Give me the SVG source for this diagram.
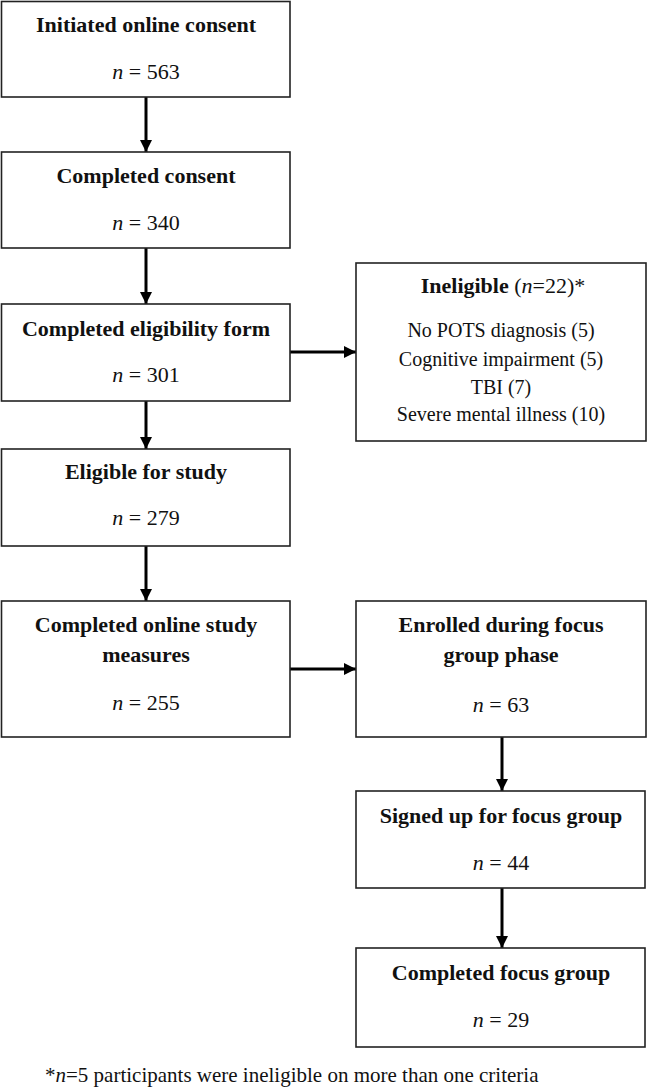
<svg xmlns="http://www.w3.org/2000/svg" width="647" height="1087" viewBox="0 0 647 1087">
<defs>
<style>
.box{fill:#fff;stroke:#222;stroke-width:1.6}
.b{font-family:"Liberation Serif","Times New Roman",serif;font-weight:bold;font-size:22px;fill:#111;text-anchor:middle}
.r{font-family:"Liberation Serif","Times New Roman",serif;font-size:22px;fill:#111;text-anchor:middle}
.l{font-family:"Liberation Serif","Times New Roman",serif;font-size:20px;fill:#111;text-anchor:middle}
.i{font-style:italic}
.c{stroke:#000;stroke-width:3;fill:none;marker-end:url(#ah)}
</style>
<marker id="ah" viewBox="0 0 10 10" refX="10" refY="5" markerUnits="userSpaceOnUse" markerWidth="12" markerHeight="12" orient="auto">
<path d="M0,0 L10,5 L0,10 z" fill="#000"/>
</marker>
</defs>
<rect width="647" height="1087" fill="#fff"/>
<g id="connectors">
<line class="c" x1="146" y1="97" x2="146" y2="152"/>
<line class="c" x1="146" y1="248" x2="146" y2="304"/>
<line class="c" x1="146" y1="401" x2="146" y2="449"/>
<line class="c" x1="146" y1="546" x2="146" y2="601"/>
<line class="c" x1="290" y1="352" x2="356" y2="352"/>
<line class="c" x1="290" y1="669" x2="356" y2="669"/>
<line class="c" x1="502" y1="737" x2="502" y2="791"/>
<line class="c" x1="502" y1="888" x2="502" y2="948"/>
</g>
<g id="n1">
<rect class="box" x="1.5" y="1.5" width="288.5" height="95.5"/>
<text class="b" x="146" y="32">Initiated online consent</text>
<text class="r" x="146" y="79"><tspan class="i">n</tspan> = 563</text>
</g>
<g id="n2">
<rect class="box" x="1.5" y="152" width="288.5" height="96"/>
<text class="b" x="146" y="183">Completed consent</text>
<text class="r" x="146" y="230"><tspan class="i">n</tspan> = 340</text>
</g>
<g id="n3">
<rect class="box" x="1.5" y="304" width="288.5" height="97"/>
<text class="b" x="146" y="336">Completed eligibility form</text>
<text class="r" x="146" y="382"><tspan class="i">n</tspan> = 301</text>
</g>
<g id="n4">
<rect class="box" x="1.5" y="449" width="288.5" height="97"/>
<text class="b" x="146" y="479">Eligible for study</text>
<text class="r" x="146" y="525"><tspan class="i">n</tspan> = 279</text>
</g>
<g id="n5">
<rect class="box" x="1.5" y="601" width="288.5" height="136"/>
<text class="b" x="146" y="632">Completed online study</text>
<text class="b" x="146" y="662">measures</text>
<text class="r" x="146" y="710"><tspan class="i">n</tspan> = 255</text>
</g>
<g id="ineligible">
<rect class="box" x="356" y="263" width="290" height="178"/>
<text class="r" x="503" y="293"><tspan font-weight="bold">Ineligible</tspan>  (<tspan class="i">n</tspan>=22)*</text>
<text class="l" x="501" y="337">No POTS diagnosis (5)</text>
<text class="l" x="501" y="366">Cognitive impairment (5)</text>
<text class="l" x="501" y="394">TBI (7)</text>
<text class="l" x="501" y="421">Severe mental illness (10)</text>
</g>
<g id="n6">
<rect class="box" x="356" y="601" width="290" height="136"/>
<text class="b" x="501" y="632">Enrolled during focus</text>
<text class="b" x="501" y="662">group phase</text>
<text class="r" x="501" y="712"><tspan class="i">n</tspan> = 63</text>
</g>
<g id="n7">
<rect class="box" x="356" y="791" width="289" height="97"/>
<text class="b" x="501" y="823">Signed up for focus group</text>
<text class="r" x="501" y="870"><tspan class="i">n</tspan> = 44</text>
</g>
<g id="n8">
<rect class="box" x="356" y="948" width="289" height="99"/>
<text class="b" x="501" y="980">Completed focus group</text>
<text class="r" x="501" y="1027"><tspan class="i">n</tspan> = 29</text>
</g>
<g id="footnote">
<text class="l" x="45" y="1082" style="text-anchor:start;font-size:21px">*<tspan class="i">n</tspan>=5 participants were ineligible on more than one criteria</text>
</g>
</svg>
